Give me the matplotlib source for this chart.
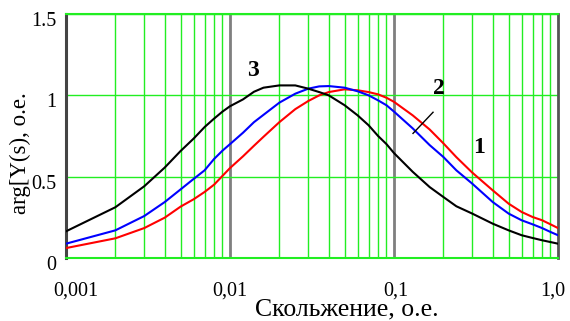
import numpy as np
import matplotlib
matplotlib.use("Agg")
import matplotlib.pyplot as plt
from matplotlib.transforms import ScaledTranslation
from matplotlib.ticker import FixedLocator, NullFormatter

# ---- data ----
slip = [0.001, 0.002, 0.003, 0.004, 0.005, 0.006, 0.007, 0.008, 0.009, 0.010,
        0.012, 0.014, 0.016, 0.02, 0.025, 0.03, 0.035, 0.04, 0.05, 0.06, 0.07,
        0.08, 0.09, 0.1, 0.13, 0.165, 0.2, 0.24, 0.3, 0.4, 0.5, 0.6, 0.7, 0.8,
        0.9, 1.0]

curve1_red = [0.061, 0.121, 0.184, 0.248, 0.316, 0.361, 0.406, 0.451, 0.505, 0.553,
              0.625, 0.690, 0.745, 0.835, 0.915, 0.965, 1.000, 1.020, 1.037, 1.031, 1.020,
              1.006, 0.985, 0.960, 0.877, 0.790, 0.705, 0.620, 0.525, 0.416, 0.334, 0.283,
              0.252, 0.232, 0.207, 0.184]

curve2_blue = [0.088, 0.170, 0.258, 0.344, 0.422, 0.486, 0.539, 0.609, 0.660, 0.700,
               0.770, 0.835, 0.880, 0.955, 1.010, 1.041, 1.055, 1.057, 1.047, 1.025, 1.000,
               0.969, 0.939, 0.900, 0.797, 0.694, 0.621, 0.539, 0.457, 0.344, 0.273, 0.232,
               0.207, 0.184, 0.160, 0.140]

curve3_black = [0.164, 0.312, 0.441, 0.556, 0.658, 0.734, 0.805, 0.857, 0.900, 0.933,
                0.975, 1.022, 1.047, 1.061, 1.061, 1.041, 1.020, 1.000, 0.939, 0.877, 0.816,
                0.750, 0.700, 0.645, 0.530, 0.436, 0.375, 0.318, 0.273, 0.211, 0.170, 0.140,
                0.123, 0.109, 0.098, 0.088]

x_ticks = [0.001, 0.01, 0.1, 1.0]
x_tick_labels = ["0,001", "0,01", "0,1", "1,0"]
y_ticks = [0, 0.5, 1.0, 1.5]
y_tick_labels = ["0", "0.5", "1", "1.5"]

curve_labels = ["1", "2", "3"]

# ---- figure ----
plt.rcParams['font.family'] = ['Liberation Serif', 'DejaVu Serif']
fig = plt.figure(figsize=(5.7, 3.21), dpi=100)
ax = fig.add_axes([66/570, 63/321, 492/570, 244/321])

GREEN = '#22ee22'
GRAY = '#7f7f7f'

ax.set_xscale('log')
ax.set_xlim(0.001, 1.0)
ax.set_ylim(0, 1.5)

# grid: minor log verticals in green, decades gray, horizontals green
ax.xaxis.set_minor_locator(FixedLocator([m * d for d in (0.001, 0.01, 0.1) for m in range(2, 10)]))
ax.xaxis.set_minor_formatter(NullFormatter())
ax.grid(True, which='minor', axis='x', color=GREEN, lw=1.0)
ax.yaxis.set_major_locator(FixedLocator(y_ticks))
ax.grid(True, which='major', axis='y', color=GREEN, lw=1.0)
for d in (0.01, 0.1):
    ax.axvline(d, color=GRAY, lw=2.0, zorder=1.5)

ax.tick_params(which='both', length=0)

for side in ('top', 'bottom'):
    ax.spines[side].set_color(GREEN)
    ax.spines[side].set_linewidth(1.5)
ax.spines['left'].set_color('#444444')
ax.spines['left'].set_linewidth(2.2)
ax.spines['right'].set_color('#555555')
ax.spines['right'].set_linewidth(2.0)

ax.plot(slip, curve1_red, color='#ff0000', lw=1.5, zorder=3)
ax.plot(slip, curve2_blue, color='#0000ff', lw=1.5, zorder=3)
ax.plot(slip, curve3_black, color='#000000', lw=1.5, zorder=3)

# ticks
ax.set_xticks(x_ticks)
ax.set_xticklabels(x_tick_labels, fontsize=14.5)
ax.set_yticks(y_ticks)
ax.set_yticklabels(y_tick_labels, fontsize=14.5)
ax.tick_params(axis='x', pad=17)
ax.tick_params(axis='y', pad=7)

x_offsets_px = [10, 0, 2, -5]
for lab, dx in zip(ax.get_xticklabels(), x_offsets_px):
    lab.set_transform(lab.get_transform() + ScaledTranslation(dx/100, 0, fig.dpi_scale_trans))
for lab in ax.get_yticklabels():
    lab.set_transform(lab.get_transform() + ScaledTranslation(0, -5/100, fig.dpi_scale_trans))

ax.set_xlabel("Скольжение, о.е.", fontsize=18.5, va='baseline')
ax.xaxis.set_label_coords(0.57, -0.237)
ax.set_ylabel("arg[Y(s), o.e.", fontsize=16.5, va='center')
ax.yaxis.set_label_coords(-0.0935, 0.43)

# curve annotations
bold = dict(fontsize=17, fontweight='bold', ha='center', va='center', zorder=4)
ax.text(0.33, 0.68, curve_labels[0], **bold)
ax.text(0.188, 1.04, curve_labels[1], **bold)
ax.text(0.0138, 1.155, curve_labels[2], **bold)
ax.plot([0.1306, 0.173], [0.766, 0.896], color='black', lw=1.0, zorder=4)

fig.savefig("out.png", dpi=100)
